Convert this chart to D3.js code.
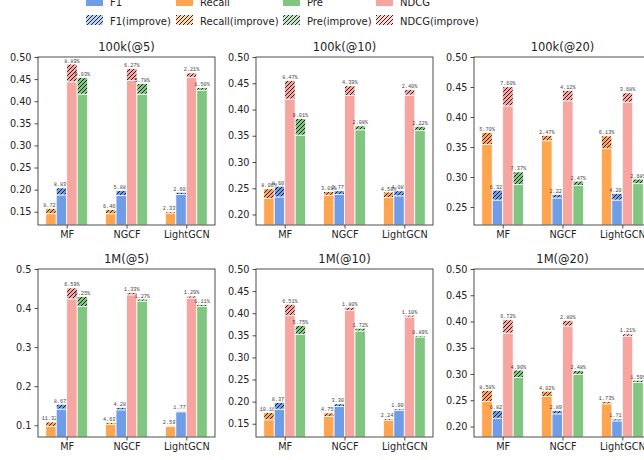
<!DOCTYPE html>
<html>
<head>
<meta charset="utf-8">
<script src="https://cdn.jsdelivr.net/npm/d3@7"></script>
<style>
  body { margin: 0; background: #fff; }
  svg { display: block; }
  .axis text { font-family: "DejaVu Sans", sans-serif; font-size: 9.7px; fill: #222; }
  .axis path, .axis line { stroke: #222; stroke-width: 0.8; }
</style>
</head>
<body>
<svg id="chart" width="644" height="460"></svg>
<script>
// models on the x axis, one panel per dataset / cut-off
var models = ['MF', 'NGCF', 'LightGCN'];
var panelTitles = ['100k(@5)', '100k(@10)', '100k(@20)', '1M(@5)', '1M(@10)', '1M(@20)'];
var yLow = [0.12, 0.18, 0.22, 0.07, 0.12, 0.18];
var yTicks = [
  [0.15, 0.20, 0.25, 0.30, 0.35, 0.40, 0.45, 0.50],
  [0.20, 0.25, 0.30, 0.35, 0.40, 0.45, 0.50],
  [0.25, 0.30, 0.35, 0.40, 0.45, 0.50],
  [0.1, 0.2, 0.3, 0.4, 0.5],
  [0.15, 0.20, 0.25, 0.30, 0.35, 0.40, 0.45, 0.50],
  [0.20, 0.25, 0.30, 0.35, 0.40, 0.45, 0.50]
];
var yFormats = ['.2f', '.2f', '.2f', '.1f', '.2f', '.2f'];

// per panel: [MF, NGCF, LightGCN]; base value, value after improvement, gain label
var recallBase = [[0.1455, 0.1455, 0.147], [0.2305, 0.2367, 0.2323], [0.354, 0.3604, 0.3472],
                  [0.0975, 0.1017, 0.0975], [0.159, 0.1665, 0.1575], [0.2475, 0.257, 0.2431]];
var recallTop  = [[0.157, 0.155, 0.1505], [0.249, 0.2438, 0.2428], [0.3742, 0.3693, 0.3685],
                  [0.1085, 0.1064, 0.1], [0.1752, 0.1744, 0.161], [0.2687, 0.2673, 0.2473]];
var recallGain = [['8.72%', '6.40%', '2.33%'], ['8.06%', '3.01%', '4.58%'], ['5.70%', '2.47%', '6.13%'],
                  ['11.32%', '4.63%', '2.59%'], ['10.16%', '4.75%', '2.24%'], ['8.58%', '4.02%', '1.73%']];

var f1Base = [[0.188, 0.187, 0.189], [0.2335, 0.2385, 0.2355], [0.2616, 0.2651, 0.2616],
              [0.1415, 0.1395, 0.1345], [0.183, 0.1888, 0.180], [0.2158, 0.224, 0.2107]];
var f1Top  = [[0.204, 0.198, 0.194], [0.2538, 0.2451, 0.2451], [0.2781, 0.271, 0.2726],
              [0.1538, 0.1455, 0.1369], [0.1983, 0.195, 0.1834], [0.2305, 0.2305, 0.2143]];
var f1Gain = [['8.83%', '5.88%', '2.60%'], ['8.60%', '2.77%', '4.08%'], ['6.32%', '2.22%', '4.20%'],
              ['8.67%', '4.28%', '1.77%'], ['8.37%', '3.30%', '1.90%'], ['6.82%', '2.89%', '1.71%']];

var ndcgBase = [[0.444, 0.447, 0.454], [0.420, 0.4265, 0.4275], [0.4186, 0.4269, 0.4247],
                [0.4237, 0.4339, 0.4254], [0.3945, 0.4062, 0.3913], [0.3779, 0.3912, 0.3719]];
var ndcgTop  = [[0.484, 0.474, 0.464], [0.4553, 0.4452, 0.4378], [0.4504, 0.4445, 0.4403],
                [0.4516, 0.4397, 0.4309], [0.4202, 0.4135, 0.3956], [0.4033, 0.4022, 0.3764]];
var ndcgGain = [['8.89%', '6.27%', '2.21%'], ['8.47%', '4.39%', '2.40%'], ['7.60%', '4.12%', '3.68%'],
                ['6.59%', '1.33%', '1.29%'], ['6.51%', '1.80%', '1.10%'], ['6.72%', '2.80%', '1.21%']];

var preBase = [[0.416, 0.416, 0.425], [0.3513, 0.3613, 0.360], [0.2873, 0.2861, 0.2889],
               [0.4042, 0.4178, 0.4042], [0.3523, 0.3598, 0.3463], [0.2931, 0.2994, 0.2836]];
var preTop  = [[0.4535, 0.440, 0.431], [0.3829, 0.3688, 0.368], [0.3085, 0.2932, 0.2966],
               [0.4295, 0.4231, 0.4087], [0.3726, 0.366, 0.3494], [0.3075, 0.3068, 0.2881]];
var preGain = [['9.03%', '5.78%', '1.50%'], ['9.01%', '2.08%', '2.22%'], ['7.37%', '2.47%', '2.68%'],
               ['6.25%', '1.27%', '1.11%'], ['5.75%', '1.72%', '0.89%'], ['4.90%', '2.48%', '1.59%']];

// bar order inside a group: Recall, F1, NDCG, Pre
var metrics = [
  { name: 'Recall', color: '#ffa54f', base: recallBase, top: recallTop, gain: recallGain },
  { name: 'F1',     color: '#6f9de8', base: f1Base,     top: f1Top,     gain: f1Gain },
  { name: 'NDCG',   color: '#f7a5a1', base: ndcgBase,   top: ndcgTop,   gain: ndcgGain },
  { name: 'Pre',    color: '#80c680', base: preBase,    top: preTop,    gain: preGain }
];
var legendOrder = ['F1', 'Recall', 'Pre', 'NDCG'];

var svg = d3.select('#chart');
var defs = svg.append('defs');

// hatch "////" drawn over a fill colour
function addHatch(id, fill) {
  var p = defs.append('pattern')
      .attr('id', id)
      .attr('patternUnits', 'userSpaceOnUse')
      .attr('width', 4).attr('height', 4);
  p.append('rect').attr('width', 4).attr('height', 4).attr('fill', fill);
  p.append('path')
      .attr('d', 'M-1,1 L1,-1 M0,4 L4,0 M3,5 L5,3')
      .attr('stroke', '#111').attr('stroke-width', 0.9);
}
metrics.forEach(function (m) {
  addHatch('hatch-' + m.name, m.color);
  addHatch('hatchL-' + m.name, d3.interpolateRgb(m.color, '#fff')(0.55));
});

var lefts = [38, 256, 474], tops = [57, 269];
var pw = 177, ph = 168;
var barW = 0.175;

var x = d3.scaleLinear().domain([-0.48, 2.48]).range([0, pw]);

panelTitles.forEach(function (title, pi) {
  var g = svg.append('g')
      .attr('transform', 'translate(' + lefts[pi % 3] + ',' + tops[Math.floor(pi / 3)] + ')');

  var y = d3.scaleLinear().domain([yLow[pi], 0.50]).range([ph, 0]);

  defs.append('clipPath').attr('id', 'clip' + pi)
    .append('rect').attr('width', pw).attr('height', ph);

  var plot = g.append('g').attr('clip-path', 'url(#clip' + pi + ')');

  metrics.forEach(function (m, mi) {
    var off = (mi - 1.5) * barW;
    var rows = models.map(function (name, ci) {
      return { c: ci, base: m.base[pi][ci], top: m.top[pi][ci], gain: m.gain[pi][ci] };
    });

    plot.selectAll(null).data(rows).enter().append('rect')
        .attr('x', function (d) { return x(d.c + off - barW / 2); })
        .attr('width', x(barW) - x(0))
        .attr('y', function (d) { return y(d.base); })
        .attr('height', function (d) { return ph - y(d.base); })
        .attr('fill', m.color)
        .attr('stroke', '#fff').attr('stroke-width', 0.8);

    plot.selectAll(null).data(rows).enter().append('rect')
        .attr('x', function (d) { return x(d.c + off - barW / 2); })
        .attr('width', x(barW) - x(0))
        .attr('y', function (d) { return y(d.top); })
        .attr('height', function (d) { return y(d.base) - y(d.top); })
        .attr('fill', 'url(#hatch-' + m.name + ')')
        .attr('stroke', '#fff').attr('stroke-width', 0.8);

    plot.selectAll(null).data(rows).enter().append('text')
        .attr('x', function (d) { return x(d.c + off); })
        .attr('y', function (d) { return y(d.top) - 1.5; })
        .attr('text-anchor', 'middle')
        .style('font-family', '"Liberation Mono", monospace')
        .style('font-size', '5.2px')
        .style('fill', '#444')
        .text(function (d) { return d.gain; });
  });

  g.append('g').attr('class', 'axis')
      .call(d3.axisLeft(y).tickValues(yTicks[pi]).tickFormat(d3.format(yFormats[pi]))
        .tickSize(3.5).tickPadding(3))
      .call(function (a) { a.select('.domain').remove(); });

  g.append('g').attr('class', 'axis')
      .attr('transform', 'translate(0,' + ph + ')')
      .call(d3.axisBottom(x).tickValues([0, 1, 2]).tickFormat(function (d) { return models[d]; })
        .tickSize(3.5).tickPadding(3))
      .call(function (a) { a.select('.domain').remove(); });

  g.append('rect')
      .attr('width', pw).attr('height', ph)
      .attr('fill', 'none').attr('stroke', '#222').attr('stroke-width', 0.8);

  g.append('text')
      .attr('x', pw / 2).attr('y', -6)
      .attr('text-anchor', 'middle')
      .style('font-family', '"DejaVu Sans", sans-serif')
      .style('font-size', '11.5px')
      .style('fill', '#222')
      .text(title);
});

// legend: 4 columns, plain row then hatched row (top row is cut by the frame)
var legX = [86, 176, 283, 376];
legendOrder.forEach(function (name, i) {
  var m = metrics.filter(function (d) { return d.name === name; })[0];
  [0, 1].forEach(function (r) {
    var yy = r === 0 ? -4 : 15;
    svg.append('rect')
        .attr('x', legX[i]).attr('y', yy)
        .attr('width', 17).attr('height', 10)
        .attr('fill', r === 0 ? m.color : 'url(#hatchL-' + name + ')');
    svg.append('text')
        .attr('x', legX[i] + 24).attr('y', yy + 9.5)
        .style('font-family', '"DejaVu Sans", sans-serif')
        .style('font-size', '10px')
        .style('fill', '#222')
        .text(r === 0 ? name : name + '(improve)');
  });
});
</script>
</body>
</html>
